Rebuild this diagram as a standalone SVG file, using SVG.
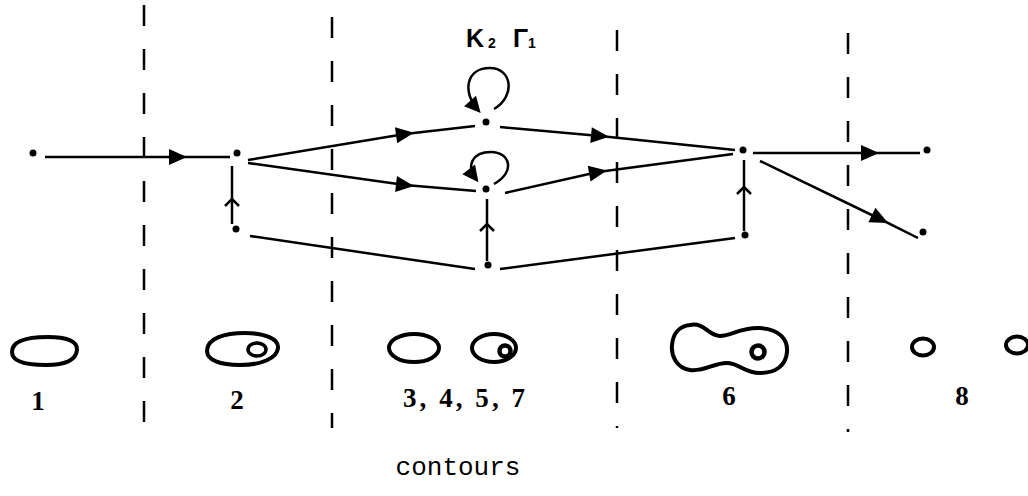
<svg xmlns="http://www.w3.org/2000/svg" width="1028" height="496" viewBox="0 0 1028 496">
<style>
.dash{stroke:#000;stroke-width:2.5;stroke-dasharray:21 23;fill:none}
.e{stroke:#000;stroke-width:2.5;fill:none}
.c{stroke:#000;stroke-width:4;fill:none}
.dot{fill:#000}
.num{font-family:"Liberation Serif",serif;font-size:27px;font-weight:bold;fill:#000}
.lbl{font-family:"Liberation Sans",sans-serif;fill:#000}
</style>
<defs>
<marker id="tri" markerUnits="userSpaceOnUse" viewBox="-10 -10 20 20" markerWidth="20" markerHeight="20" refX="0" refY="0" orient="auto">
<path d="M-9,-8 L9,0 L-9,8 Z" fill="#000"/>
</marker>
<marker id="chev" markerUnits="userSpaceOnUse" viewBox="-10 -10 20 20" markerWidth="20" markerHeight="20" refX="0" refY="0" orient="auto">
<path d="M-6,-7 L1,0 L-6,7" fill="none" stroke="#000" stroke-width="2.5"/>
</marker>
<marker id="loopHead" markerUnits="userSpaceOnUse" viewBox="-10 -10 20 20" markerWidth="20" markerHeight="20" refX="4" refY="0" orient="auto">
<path d="M-8,-8 L8,0 L-8,8 Z" fill="#000"/>
</marker>
</defs>
<g id="separators">
<line class="dash" x1="144" y1="5" x2="144" y2="428"/>
<line class="dash" x1="332" y1="17" x2="332" y2="428"/>
<line class="dash" x1="617" y1="30" x2="617" y2="428"/>
<line class="dash" x1="848" y1="33" x2="848" y2="432"/>
</g>
<g id="connectors">
<path class="e" d="M45,157 L178,157 L230,157" marker-mid="url(#tri)"/>
<path class="e" d="M248,160 L405,134 L475,126" marker-mid="url(#tri)"/>
<path class="e" d="M248,163 L405,185 L476,191" marker-mid="url(#tri)"/>
<path class="e" d="M500,127 L600,136 L735,150" marker-mid="url(#tri)"/>
<path class="e" d="M505,193 L598,172 L733,154" marker-mid="url(#tri)"/>
<path class="e" d="M753,153 L870,153 L920,153" marker-mid="url(#tri)"/>
<path class="e" d="M760,161 L880,219 L918,238" marker-mid="url(#tri)"/>
<path class="e" d="M232,224 L232,200 L232,166" marker-mid="url(#chev)"/>
<path class="e" d="M487,261 L487,225 L487,199" marker-mid="url(#chev)"/>
<path class="e" d="M744,231 L744,188 L744,160" marker-mid="url(#chev)"/>
<line class="e" x1="250" y1="236" x2="475" y2="269"/>
<line class="e" x1="500" y1="269" x2="735" y2="238"/>
<path class="e" d="M494,109 C516,96 512,68 490,68 C466,68 462,92 478,110" marker-end="url(#loopHead)"/>
<path class="e" d="M494,184 C516,172 510,152 491,152 C472,152 466,166 476,179" marker-end="url(#loopHead)"/>
</g>
<g id="n0"><circle class="dot" cx="33" cy="153" r="3.5"/></g>
<g id="nA"><circle class="dot" cx="237" cy="153" r="3.5"/></g>
<g id="nB"><circle class="dot" cx="236" cy="229" r="3.5"/></g>
<g id="nC"><circle class="dot" cx="486" cy="122" r="3.5"/></g>
<g id="nD"><circle class="dot" cx="486" cy="189" r="3.5"/></g>
<g id="nE"><circle class="dot" cx="488" cy="265" r="3.5"/></g>
<g id="nF"><circle class="dot" cx="743" cy="150" r="3.5"/></g>
<g id="nG"><circle class="dot" cx="745" cy="235" r="3.5"/></g>
<g id="nOut1"><circle class="dot" cx="927" cy="150" r="3.5"/></g>
<g id="nOut2"><circle class="dot" cx="923" cy="232" r="3.5"/></g>
<g id="loopLabel">
<text class="lbl" x="466" y="47" font-size="25" font-weight="bold">K</text>
<text class="lbl" x="488" y="48" font-size="14" font-weight="bold">2</text>
<text class="lbl" x="513" y="47" font-size="25" font-weight="bold">Γ</text>
<text class="lbl" x="528" y="48" font-size="14" font-weight="bold">1</text>
</g>
<g id="contour1">
<path class="c" d="M12,352 C12,340 30,337 48,337 C66,337 78,341 77,350 C76,360 66,365 46,365 C26,365 12,362 12,352 Z"/>
<text class="num" x="38" y="410" text-anchor="middle">1</text>
</g>
<g id="contour2">
<path class="c" d="M207,351 C207,338 225,333 245,333 C265,333 279,339 278,348 C277,358 262,365 240,365 C220,365 207,360 207,351 Z"/>
<ellipse class="c" cx="257" cy="349.5" rx="9" ry="6.5" style="stroke-width:3.5"/>
<text class="num" x="237" y="409" text-anchor="middle">2</text>
</g>
<g id="contour3457">
<ellipse class="c" cx="414" cy="348" rx="25" ry="14"/>
<ellipse class="c" cx="494" cy="348" rx="22" ry="14"/>
<circle cx="505" cy="351" r="5.5" fill="none" stroke="#000" stroke-width="4.5"/>
<text class="num" x="403" y="407" textLength="122" lengthAdjust="spacing">3, 4, 5, 7</text>
</g>
<g id="contour6">
<path class="c" d="M690,325 C705,322 708,336 720,336 C732,336 740,327 760,328 C780,329 788,340 787,352 C786,366 775,373 760,373 C745,373 740,364 728,363 C715,362 705,372 690,370 C676,368 671,355 672,345 C673,333 680,326 690,325 Z"/>
<circle cx="758" cy="352" r="6.5" fill="none" stroke="#000" stroke-width="4.5"/>
<text class="num" x="729" y="405" text-anchor="middle">6</text>
</g>
<g id="contour8">
<ellipse class="c" cx="923" cy="347" rx="11" ry="8.5"/>
<ellipse class="c" cx="1017" cy="345" rx="11" ry="8.5"/>
<text class="num" x="962" y="405" text-anchor="middle">8</text>
</g>
<text x="458" y="475" text-anchor="middle" font-family="Liberation Mono, monospace" font-size="26" fill="#000">contours</text>
</svg>
